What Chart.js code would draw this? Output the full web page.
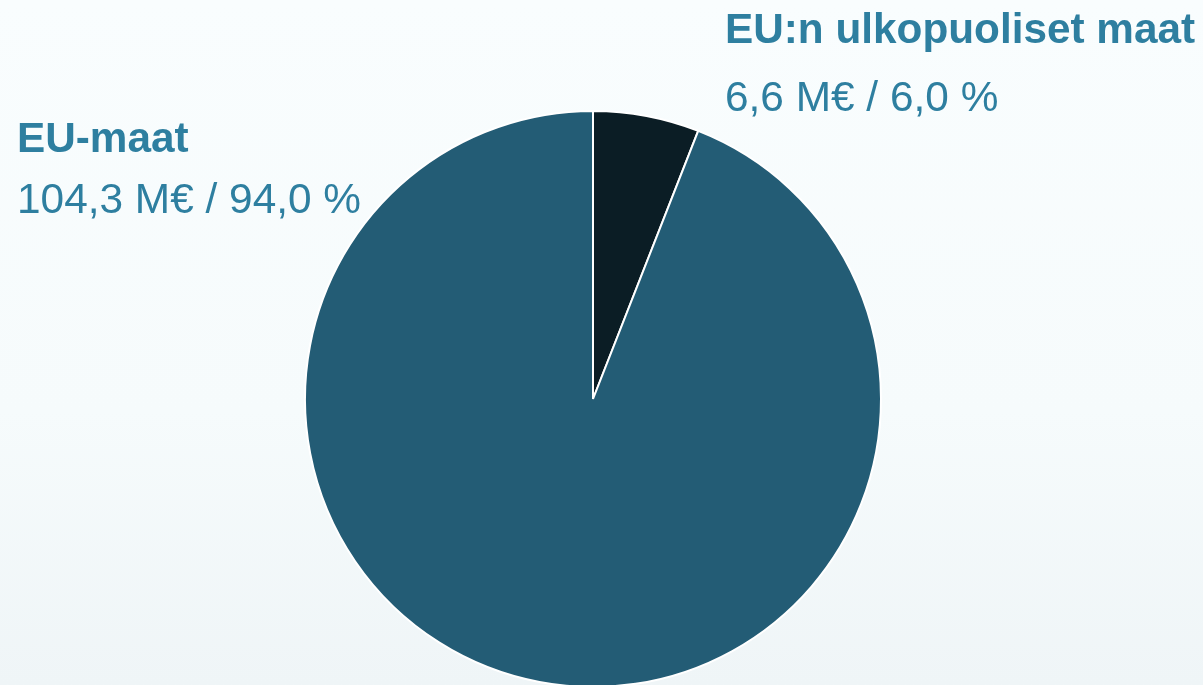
<!DOCTYPE html>
<html><head><meta charset="utf-8">
<script src="https://cdn.jsdelivr.net/npm/chart.js@4"></script>
<style>
html,body{margin:0;padding:0;width:1203px;height:685px;overflow:hidden;
background:linear-gradient(180deg,#f9fdfe 0%,#f6fbfc 60%,#eff5f7 100%);}
canvas{display:block}
</style></head><body>
<canvas id="c" width="1203" height="700"></canvas>
<script>
const categories = ["EU:n ulkopuoliset maat", "EU-maat"];
const valuesMEUR = [6.6, 104.3];
const percents = [6.0, 94.0];
const sliceColors = ["#0b1d25", "#235c75"];

const fmt = v => v.toFixed(1).replace('.', ',');
const labelPos = [{x:725, y1:43, y2:111}, {x:17, y1:152, y2:213}];

const labelPlugin = {
  id: 'labels',
  afterDraw(chart) {
    const ctx = chart.ctx;
    ctx.save();
    ctx.fillStyle = '#2e7fa0';
    ctx.textBaseline = 'alphabetic';
    ctx.textAlign = 'left';
    categories.forEach((c, i) => {
      const p = labelPos[i];
      ctx.font = 'bold 42.3px "Liberation Sans", Arial, sans-serif';
      ctx.fillText(c, p.x, p.y1);
      ctx.font = '42.4px "Liberation Sans", Arial, sans-serif';
      ctx.fillText(fmt(valuesMEUR[i]) + ' M€ / ' + fmt(percents[i]) + ' %', p.x, p.y2);
    });
    ctx.restore();
  }
};

new Chart(document.getElementById('c'), {
  type: 'pie',
  data: {
    labels: categories,
    datasets: [{
      data: valuesMEUR,
      backgroundColor: sliceColors,
      borderColor: '#ffffff',
      borderWidth: 2
    }]
  },
  options: {
    responsive: false,
    animation: false,
    layout: { padding: { top: 110, bottom: 12, left: 0, right: 17 } },
    plugins: { legend: { display: false }, tooltip: { enabled: false } }
  },
  plugins: [labelPlugin]
});
</script>
</body></html>
